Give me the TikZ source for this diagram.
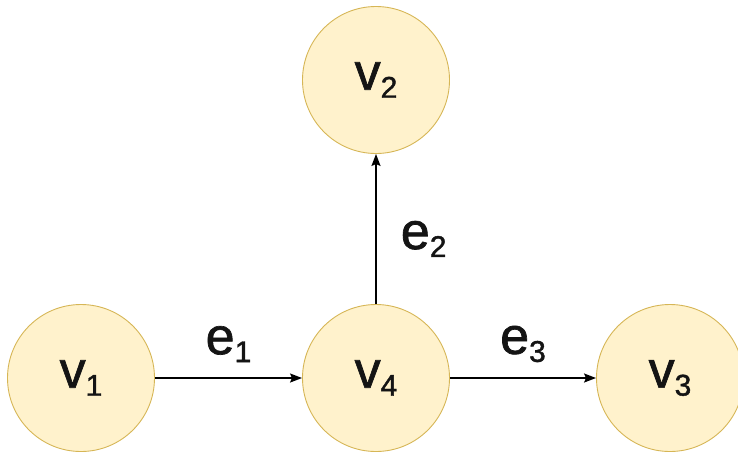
\documentclass[tikz,border=0pt]{standalone}
\usepackage{fontspec}
\setmainfont{Liberation Sans}
\newfontfamily\lblfont[FakeBold=1.3]{Liberation Sans}
\usetikzlibrary{arrows.meta}
\definecolor{GraphNodeFill}{HTML}{FFF2CC}
\definecolor{GraphNodeStroke}{HTML}{D6B656}
\definecolor{GraphText}{HTML}{141414}
\newcommand{\sublbl}[2]{#1\raisebox{-8pt}{\fontsize{30}{30}\selectfont #2}}

\begin{document}
\begin{tikzpicture}[x=1pt,y=-1pt,
  vertex/.style={circle,draw=GraphNodeStroke,fill=GraphNodeFill,line width=0.9pt,minimum size=147pt,inner sep=0pt,text=GraphText,font=\lblfont\fontsize{52}{52}\selectfont},
  edge/.style={draw=black,line width=1.7pt,-{Stealth[length=12pt,width=9pt,inset=2pt]}},
  elbl/.style={text=GraphText,inner sep=0pt,font=\lblfont\fontsize{52}{52}\selectfont}]
  \useasboundingbox (0,0) rectangle (738,451);
  \node[vertex] (v1) at (81,378) {\sublbl{v}{1}};
  \node[vertex] (v4) at (376,378) {\sublbl{v}{4}};
  \node[vertex] (v3) at (670,378) {\sublbl{v}{3}};
  \node[vertex] (v2) at (376,80) {\sublbl{v}{2}};
  \draw[edge] (v1) -- node[elbl,above=15pt] (e1) {\sublbl{e}{1}} (v4);
  \draw[edge] (v4) -- node[elbl,right=24pt,yshift=-10pt] (e2) {\sublbl{e}{2}} (v2);
  \draw[edge] (v4) -- node[elbl,above=15pt] (e3) {\sublbl{e}{3}} (v3);
\end{tikzpicture}
\end{document}
